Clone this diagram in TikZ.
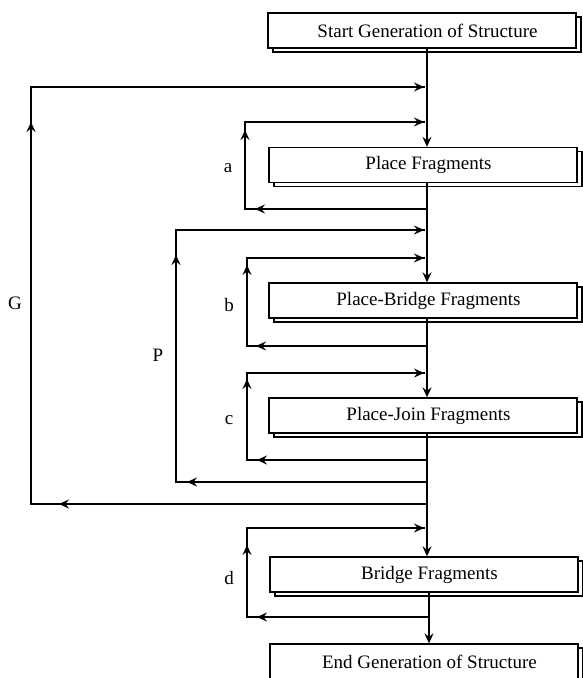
\documentclass[tikz,border=0pt]{standalone}
\usepackage{fontspec}
\setmainfont{Liberation Serif}
\usetikzlibrary{arrows.meta,shadows}
\begin{document}
\begin{tikzpicture}[x=1pt,y=-1pt,
  box/.style={draw=black,fill=white,line width=1.3pt,minimum width=308pt,minimum height=35pt,
    inner sep=0pt,font=\fontsize{19}{22}\selectfont,
    copy shadow={shadow xshift=5pt,shadow yshift=-4pt}},
  conn/.style={line width=2.7pt,line join=miter,line cap=rect},
  arr/.style={-{Stealth[length=10pt,width=9pt,inset=3.5pt]}},
  lbl/.style={font=\fontsize{19}{22}\selectfont,inner sep=0pt}]
\useasboundingbox (0,0) rectangle (582,678);
% boxes
\node[box] (start) at (422,30.5) {\hspace*{11pt}Start Generation of Structure};
\node[box] (pf) at (423,165) {\hspace*{11pt}Place Fragments};
\node[box] (pbf) at (423,300.5) {\hspace*{11pt}Place-Bridge Fragments};
\node[box] (pjf) at (423,415.5) {\hspace*{11pt}Place-Join Fragments};
\node[box] (bf) at (424,574.5) {\hspace*{11pt}Bridge Fragments};
\node[box] (end) at (424,661.5) {\hspace*{11pt}End Generation of Structure};
% main line
\draw[conn,arr] ([xshift=5pt]start.south) -- ([xshift=4pt]pf.north);
\draw[conn,arr] ([xshift=4pt]pf.south) -- ([xshift=4pt]pbf.north);
\draw[conn,arr] ([xshift=4pt]pbf.south) -- ([xshift=4pt]pjf.north);
\draw[conn,arr] ([xshift=4pt]pjf.south) -- ([xshift=3pt]bf.north);
\draw[conn,arr] ([xshift=5pt]bf.south) -- ([xshift=5pt]end.north);
% loops
\foreach \n/\xo/\yb/\xl/\yt/\ua/\la in {G/427/504/31/87/122/59, P/427/482/176/230/255/187,
   a/427/209/245/122/130/255, b/427/346/247/258/265/256, c/427/460/247/373/379/257,
   d/429/617/247/528/545/257}{
  \coordinate (\n-out) at (\xo,\yb);
  \coordinate (\n-bl) at (\xl,\yb);
  \coordinate (\n-tl) at (\xl,\yt);
  \coordinate (\n-in) at (424,\yt);
  \coordinate (\n-la) at (\la,\yb);
  \coordinate (\n-ua) at (\xl,\ua);
  \draw[conn] (\n-out) -- (\n-bl) -- (\n-tl) -- (\n-in);
  \draw[conn,arr] (\n-out) -- (\n-la);
  \draw[conn,arr] (\n-bl) -- (\n-ua);
  \draw[conn,arr] (\n-tl) -- (\n-in);
}
% labels
\node[lbl] (la) at (228,168) {a};
\node[lbl] (lb) at (229,305) {b};
\node[lbl] (lc) at (229,420) {c};
\node[lbl] (ld) at (229,578) {d};
\node[lbl] (lP) at (158,355) {P};
\node[lbl] (lG) at (15,303) {G};
\end{tikzpicture}
\end{document}
